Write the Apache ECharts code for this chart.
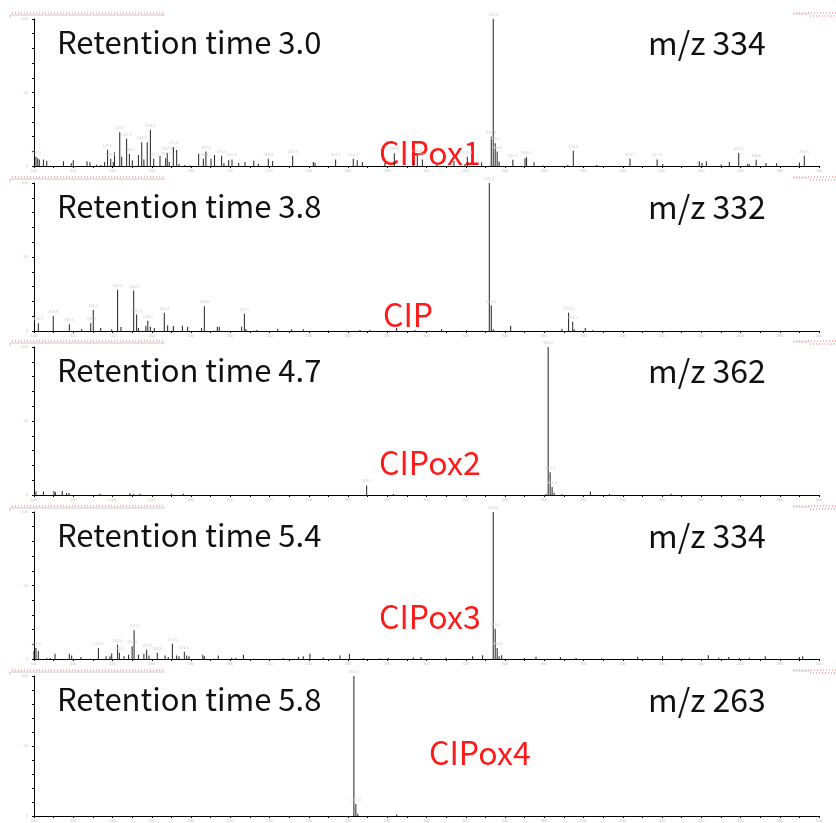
<!DOCTYPE html>
<html>
<head>
<meta charset="utf-8">
<script src="https://cdn.jsdelivr.net/npm/echarts@6.0.0/dist/echarts.min.js"></script>
<style>
  html, body { margin: 0; padding: 0; background: #ffffff; }
  #chart { width: 836px; height: 823px; }
</style>
</head>
<body>
<div id="chart"></div>
<script>
// Five stacked MS spectra (relative abundance vs m/z)
const retentionLabels = ['Retention time 3.0', 'Retention time 3.8', 'Retention time 4.7', 'Retention time 5.4', 'Retention time 5.8'];
const ionLabels = ['m/z 334', 'm/z 332', 'm/z 362', 'm/z 334', 'm/z 263'];
const compoundLabels = ['CIPox1', 'CIP', 'CIPox2', 'CIPox3', 'CIPox4'];
const mzTicks = [100, 500, 10];
const abundanceTicks = [0, 100, 10];

// [m/z, relative abundance %]
const spectrumCIPox1 = [
  [101.0, 6.3], [101.9, 5.2], [102.7, 4.5], [104.8, 4.5], [106.5, 3.6], [115.0, 3.2], [119.0, 1.8], [120.0, 3.9],
  [127.0, 3.2], [128.5, 2.5], [131.9, 0.9], [134.1, 0.7], [136.0, 2.7], [137.5, 11.1], [139.1, 5.0], [140.4, 2.7],
  [141.0, 9.3], [143.7, 22.9], [144.7, 6.3], [147.2, 18.6], [148.6, 8.2], [150.1, 3.9], [153.2, 7.5], [154.9, 16.1],
  [156.0, 4.5], [157.7, 16.1], [159.3, 24.7], [161.0, 5.0], [164.2, 6.8], [167.1, 5.2], [167.9, 8.8], [168.9, 2.7],
  [171.0, 12.9], [172.7, 10.9], [173.9, 1.4], [176.9, 0.7], [179.5, 0.3], [183.9, 8.2], [186.3, 5.0], [187.6, 9.8],
  [190.2, 5.0], [192.0, 7.5], [195.6, 7.0], [196.8, 1.8], [199.2, 3.9], [200.9, 4.5], [204.3, 2.0], [207.5, 2.7],
  [212.0, 3.6], [214.3, 1.6], [219.4, 5.0], [221.6, 3.4], [231.8, 6.8], [242.3, 2.7], [243.2, 2.0], [253.7, 4.5],
  [262.7, 5.0], [264.7, 3.9], [267.3, 2.7], [278.8, 2.0], [283.6, 8.6], [293.3, 4.1], [295.3, 7.5], [297.9, 4.5],
  [305.2, 0.9], [314.0, 3.4], [319.6, 1.4], [320.8, 6.3], [328.1, 2.5], [333.0, 20.0], [334.0, 100], [335.0, 15.4],
  [336.0, 9.8], [337.0, 3.0], [344.0, 4.3], [350.2, 5.2], [351.0, 5.9], [354.8, 2.5], [359.5, 0.3], [372.0, 0.7],
  [374.8, 10.4], [386.7, 0.7], [403.7, 5.0], [417.5, 4.5], [420.4, 1.4], [439.0, 3.2], [440.4, 2.0], [442.6, 3.2],
  [450.1, 1.1], [454.3, 2.7], [459.1, 8.8], [463.7, 1.6], [464.5, 1.1], [468.0, 4.3], [473.0, 2.0], [478.4, 1.8],
  [490.0, 2.3], [492.5, 7.0]
];
const spectrumCIP = [
  [102.2, 5.2], [109.8, 10.2], [118.0, 4.5], [124.3, 1.4], [128.9, 5.2], [130.2, 14.2], [134.0, 2.0], [139.6, 1.1],
  [142.6, 27.8], [144.3, 2.7], [150.8, 27.3], [152.3, 11.1], [153.2, 2.0], [157.0, 3.4], [158.0, 7.0], [159.3, 2.9],
  [161.3, 2.0], [166.4, 12.4], [168.1, 3.8], [171.0, 3.4], [175.6, 3.6], [178.3, 2.9], [185.4, 2.0], [186.8, 16.7],
  [193.4, 2.9], [194.4, 2.9], [205.8, 2.9], [207.2, 11.7], [208.0, 1.4], [213.5, 0.7], [224.2, 1.6], [231.3, 1.1],
  [237.2, 1.1], [250.0, 0.3], [266.1, 0.7], [271.2, 0.7], [284.8, 2.0], [294.1, 0.7], [307.7, 1.4], [320.5, 0.5],
  [332.0, 100], [333.0, 17.2], [334.0, 1.1], [342.9, 3.6], [369.0, 1.6], [372.4, 12.4], [374.5, 6.3], [375.3, 1.1],
  [380.9, 2.0], [384.7, 0.5]
];
const spectrumCIPox2 = [
  [101.0, 2.3], [104.8, 2.3], [110.2, 2.7], [111.0, 1.8], [114.4, 2.7], [116.6, 1.4], [117.8, 1.4], [133.6, 0.9],
  [148.9, 1.1], [150.6, 0.7], [154.0, 0.9], [170.0, 0.9], [176.1, 0.9], [269.5, 6.5], [283.1, 0.7], [360.9, 0.7],
  [362.0, 100], [363.0, 15.3], [364.0, 5.4], [365.0, 1.6], [368.9, 0.5], [383.5, 2.3], [393.2, 0.7], [424.6, 0.9]
];
const spectrumCIPox3 = [
  [100.0, 5.4], [101.0, 7.4], [102.2, 5.4], [106.5, 0.5], [108.2, 0.7], [110.7, 3.6], [118.0, 3.6], [119.2, 2.3],
  [123.9, 1.4], [132.8, 7.4], [136.7, 1.8], [138.7, 1.8], [139.6, 3.8], [142.6, 9.7], [143.5, 4.3], [145.9, 1.8],
  [148.2, 2.9], [150.0, 8.6], [151.0, 19.6], [153.2, 2.9], [156.0, 3.6], [157.4, 6.3], [158.6, 2.3], [162.8, 4.3],
  [166.8, 2.3], [168.4, 1.4], [170.5, 10.4], [172.7, 2.3], [173.9, 1.8], [176.6, 5.0], [177.8, 2.3], [179.0, 1.8],
  [186.0, 2.9], [186.8, 1.8], [193.9, 2.3], [200.7, 0.7], [202.8, 0.9], [206.7, 2.9], [227.0, 0.5], [234.7, 1.4],
  [237.2, 1.8], [240.6, 3.6], [247.4, 1.1], [255.9, 2.3], [260.7, 3.6], [267.8, 0.5], [276.3, 0.3], [280.5, 0.7],
  [293.3, 1.1], [297.2, 1.4], [309.9, 0.9], [323.5, 1.8], [328.6, 2.5], [334.0, 100], [335.0, 20.5], [336.0, 7.4],
  [337.0, 1.8], [338.3, 2.5], [349.8, 0.7], [355.8, 1.6], [368.2, 1.4], [376.2, 0.7], [389.3, 0.5], [407.6, 1.6],
  [420.3, 2.0], [430.5, 0.5], [443.6, 2.5], [448.9, 0.9], [454.0, 1.4], [459.4, 0.7], [464.5, 0.9], [472.6, 1.8],
  [490.0, 1.4], [491.7, 1.8]
];
const spectrumCIPox4 = [
  [263.0, 100], [264.0, 8.5], [265.0, 1.6], [284.8, 1.1]
];
const spectra = [spectrumCIPox1, spectrumCIP, spectrumCIPox2, spectrumCIPox3, spectrumCIPox4];

// panel geometry
const panelLeft = 34;
const panelWidth = 785;
const panelTops = [19, 183, 347, 512, 676];
const panelHeights = [147, 148, 148, 147, 145];

const chart = echarts.init(document.getElementById('chart'), null, { renderer: 'canvas' });

const grids = [], xAxes = [], yAxes = [], series = [], graphics = [];
const titleFont = '"Noto Sans CJK SC", "Noto Sans", sans-serif';

spectra.forEach((data, i) => {
  grids.push({ left: panelLeft, width: panelWidth, top: panelTops[i], height: panelHeights[i] });
  xAxes.push({
    type: 'value', gridIndex: i, min: mzTicks[0], max: mzTicks[1], interval: mzTicks[2],
    axisLine: { show: true, onZero: false, lineStyle: { color: '#000', width: 1 } },
    axisTick: { show: true, length: 2, lineStyle: { color: '#000' } },
    axisLabel: { fontSize: 4, color: '#c4c4c4', margin: 3, formatter: v => (v % 20 === 0 ? String(v) : '') },
    splitLine: { show: false }
  });
  yAxes.push({
    type: 'value', gridIndex: i, min: abundanceTicks[0], max: abundanceTicks[1], interval: abundanceTicks[2],
    axisLine: { show: true, lineStyle: { color: '#000', width: 1 } },
    axisTick: { show: true, length: 2, lineStyle: { color: '#000' } },
    axisLabel: { fontSize: 4, color: '#c4c4c4', margin: 6, formatter: v => (v % 50 === 0 ? String(v) : '') },
    splitLine: { show: false }
  });
  series.push({
    type: 'bar', xAxisIndex: i, yAxisIndex: i, data: data, barWidth: 1,
    itemStyle: { color: '#222' },
    label: {
      show: true, position: 'top', distance: 2, fontSize: 4, color: '#cacaca',
      formatter: p => (p.value[1] >= 4 ? p.value[0].toFixed(1) : '')
    },
    labelLayout: { hideOverlap: true },
    silent: true
  });

  const top = panelTops[i];
  // file header strips above each panel
  graphics.push(
    { type: 'line', shape: { x1: 10, y1: top - 4, x2: 165, y2: top - 4 }, style: { stroke: '#c8c8c8', lineWidth: 1 } },
    { type: 'line', shape: { x1: 10, y1: top - 4, x2: 10, y2: top - 1 }, style: { stroke: '#c8c8c8', lineWidth: 1 } },
    { type: 'line', shape: { x1: 12, y1: top - 6, x2: 163, y2: top - 6 }, style: { stroke: '#f2a0a0', lineWidth: 1.5, lineDash: [1, 2] } },
    { type: 'line', shape: { x1: 793, y1: top - 6, x2: 836, y2: top - 6 }, style: { stroke: '#f2a0a0', lineWidth: 1.5, lineDash: [1, 2] } },
    { type: 'line', shape: { x1: 793, y1: top - 5, x2: 810, y2: top - 5 }, style: { stroke: '#d0d0d0', lineWidth: 1 } },
    { type: 'line', shape: { x1: 810, y1: top - 3, x2: 836, y2: top - 3 }, style: { stroke: '#f2a0a0', lineWidth: 1.5, lineDash: [1, 2] } }
  );
  // panel annotations
  graphics.push(
    { type: 'text', left: 57, top: top + 24 - 16, style: { text: retentionLabels[i], font: '31px ' + titleFont, fill: '#111' } },
    { type: 'text', left: 648, top: top + 24 - 16, style: { text: ionLabels[i], font: '32px ' + titleFont, fill: '#111' } }
  );
});

// compound names in red, placed near each spectrum
const compoundPos = [[379, 153], [383, 315], [379, 463], [379, 617], [429, 753]];
compoundLabels.forEach((name, i) => {
  graphics.push({
    type: 'text', left: compoundPos[i][0], top: compoundPos[i][1] - 16,
    style: { text: name, font: '32px ' + titleFont, fill: '#ff1a1a' }
  });
});

chart.setOption({
  animation: false,
  backgroundColor: '#ffffff',
  grid: grids,
  xAxis: xAxes,
  yAxis: yAxes,
  series: series,
  graphic: graphics
});
</script>
</body>
</html>
